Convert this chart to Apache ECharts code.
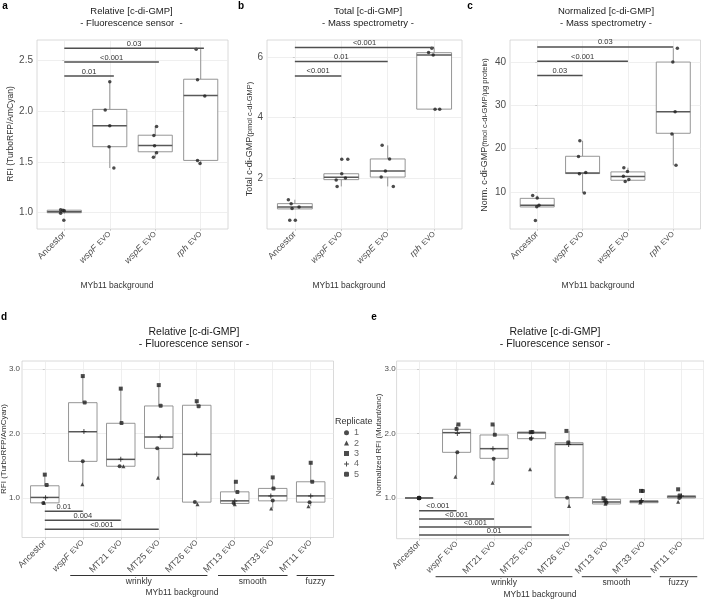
<!DOCTYPE html>
<html>
<head>
<meta charset="utf-8">
<script src="https://cdn.jsdelivr.net/npm/echarts@6/dist/echarts.min.js"></script>
<style>
  html, body { margin: 0; background: #fff; }
  #chart { width: 704px; height: 599px; }
</style>
</head>
<body>
<div id="chart"></div>
<script>
// ---- categories ----
const catsTop = ['Ancestor', 'wspF EVO', 'wspE EVO', 'rph EVO'];
const catsBottom = ['Ancestor', 'wspF EVO', 'MT21 EVO', 'MT25 EVO', 'MT26 EVO', 'MT13 EVO', 'MT33 EVO', 'MT11 EVO'];

// ---- box stats: [lower whisker, Q1, median, Q3, upper whisker] ----
const boxA = [[0.99, 1.0, 1.01, 1.025, 1.03], [1.44, 1.65, 1.855, 2.017, 2.29], [1.545, 1.60, 1.662, 1.763, 1.85], [1.485, 1.515, 2.155, 2.314, 2.61]];
const boxB = [[0.975, 0.975, 1.04, 1.15, 1.28], [1.72, 1.945, 2.02, 2.14, 2.14], [1.72, 2.03, 2.23, 2.63, 3.08], [4.28, 4.28, 6.07, 6.15, 6.30]];
const boxC = [[6.53, 6.53, 6.9, 8.52, 9.15], [9.77, 14.24, 14.4, 18.24, 21.8], [12.4, 12.7, 13.55, 14.63, 15.6], [16.15, 23.55, 28.5, 40, 43.2]];
const boxD = [[0.918, 0.922, 1.006, 1.187, 1.36], [1.21, 1.566, 2.026, 2.477, 2.89], [1.49, 1.49, 1.597, 2.157, 2.695], [1.31, 1.768, 1.944, 2.426, 2.75],
  [0.902, 0.933, 1.675, 2.437, 2.5], [0.9, 0.913, 0.953, 1.093, 1.249], [0.835, 0.953, 1.03, 1.146, 1.317], [0.87, 0.933, 1.03, 1.249, 1.544]];
const boxE = [[1, 1, 1, 1, 1], [1.33, 1.708, 2.013, 2.065, 2.14], [1.237, 1.615, 1.765, 1.977, 2.14], [1.92, 1.92, 2.01, 2.023, 2.03],
  [0.876, 1.005, 1.83, 1.857, 2.04], [0.907, 0.907, 0.938, 0.98, 0.995], [0.927, 0.927, 0.945, 0.958, 0.96], [1.0, 1.0, 1.02, 1.036, 1.04]];

// ---- replicate points per category: [jitter offset, value] ----
const ptsA = [
  [[-0.08, 1.03], [-0.03, 1.025], [0.0, 1.02], [-0.08, 0.995], [-0.01, 0.925]],
  [[0, 2.29], [-0.1, 2.01], [0, 1.855], [-0.015, 1.65], [0.09, 1.44]],
  [[0.03, 1.848], [-0.03, 1.76], [-0.015, 1.66], [0.03, 1.59], [-0.04, 1.545]],
  [[-0.1, 2.61], [-0.07, 2.31], [0.09, 2.15], [-0.07, 1.515], [-0.015, 1.485]]
];
const ptsB = [
  [[-0.14, 1.28], [-0.08, 1.15], [-0.06, 0.985], [0.09, 1.04], [-0.11, 0.6], [0.01, 0.6]],
  [[0.01, 2.62], [0.14, 2.62], [0.01, 2.14], [-0.11, 1.935], [0.09, 2.0], [-0.09, 1.72]],
  [[-0.12, 3.08], [0.04, 2.63], [-0.05, 2.23], [-0.14, 2.03], [0.12, 1.72]],
  [[-0.05, 6.30], [-0.12, 6.16], [-0.02, 6.07], [0.02, 4.28], [0.12, 4.28]]
];
const ptsC = [
  [[-0.1, 9.15], [0, 8.6], [-0.01, 6.6], [0.04, 6.9], [-0.04, 3.43]],
  [[-0.06, 21.8], [-0.09, 18.2], [-0.07, 14.2], [0.07, 14.5], [0.04, 9.77]],
  [[-0.09, 15.6], [-0.01, 14.7], [-0.1, 13.6], [0.02, 12.9], [-0.06, 12.4]],
  [[0.09, 43.2], [-0.01, 40], [0.04, 28.5], [-0.03, 23.4], [0.06, 16.15]]
];
const ptsD = [
  [[0, 1.36], [0.05, 1.20], [0.02, 1.0], [-0.04, 0.918], [-0.02, 0.925]],
  [[0, 2.89], [0.05, 2.48], [0.03, 2.03], [0, 1.566], [-0.01, 1.21]],
  [[0, 2.695], [0.02, 2.16], [0, 1.6], [-0.03, 1.49], [0.07, 1.49]],
  [[0, 2.75], [0.05, 2.43], [0.04, 1.944], [-0.04, 1.77], [-0.02, 1.31]],
  [[0, 2.5], [0.05, 2.42], [0, 1.675], [-0.05, 0.934], [0.02, 0.902]],
  [[0.03, 1.249], [0.07, 1.09], [0, 0.95], [-0.03, 0.92], [0, 0.9]],
  [[0, 1.317], [0.02, 1.146], [-0.05, 1.03], [0, 0.96], [-0.04, 0.835]],
  [[0, 1.544], [0.04, 1.25], [0, 1.03], [-0.03, 0.93], [-0.06, 0.87]]
];
const ptsE = [
  [[0, 1], [0, 1], [0, 1], [0, 1], [0, 1]],
  [[0.05, 2.14], [0, 2.07], [0.02, 2.0], [0.02, 1.71], [-0.03, 1.33]],
  [[-0.04, 2.14], [0.02, 1.98], [-0.03, 1.765], [-0.01, 1.61], [-0.04, 1.237]],
  [[-0.02, 2.02], [0.02, 2.025], [0, 1.93], [-0.02, 1.92], [-0.04, 1.445]],
  [[-0.07, 2.04], [-0.02, 1.86], [-0.01, 1.83], [-0.05, 1.005], [0, 0.876]],
  [[-0.08, 0.995], [-0.03, 0.96], [-0.04, 0.94], [0, 0.925], [-0.03, 0.91]],
  [[-0.08, 1.11], [-0.03, 1.11], [-0.07, 0.96], [-0.08, 0.945], [-0.1, 0.93]],
  [[-0.09, 1.135], [-0.05, 1.04], [0, 1.03], [-0.06, 1.0], [-0.09, 0.94]]
];
// replicate id of the j-th point in each category (panels d, e)
const repOrder = [3, 5, 4, 1, 2];
const replicates = ['1', '2', '3', '4', '5'];

// ---- significance brackets: [from, to, y, p-value] ----
const sigA = [[0, 1.09, 2.346, '0.01'], [0, 2.08, 2.484, '<0.001'], [0, 3.07, 2.62, '0.03']];
const sigB = [[0, 1, 5.38, '<0.001'], [0, 2, 5.86, '0.01'], [0, 3, 6.32, '<0.001']];
const sigC = [[0, 1, 36.9, '0.03'], [0, 2, 40.2, '<0.001'], [0, 3, 43.5, '0.03']];
const sigD = [[0, 1, 0.793, '0.01'], [0, 2, 0.653, '0.004'], [0, 3, 0.513, '<0.001']];
const sigE = [[0, 1, 0.803, '<0.001'], [0, 2, 0.674, '<0.001'], [0, 3, 0.55, '<0.001'], [0, 4, 0.426, '0.01']];

// ---- morphotype groups under the x axis: [label, from, to] ----
const groupsD = [['wrinkly', 0.67, 4.28], ['smooth', 4.56, 6.39], ['fuzzy', 6.63, 7.62]];
const groupsE = [['wrinkly', 0.44, 4.09], ['smooth', 4.34, 6.19], ['fuzzy', 6.42, 7.42]];

// ---- y ticks ----
const ticksA = [1, 1.5, 2, 2.5];
const ticksB = [2, 4, 6];
const ticksC = [10, 20, 30, 40];
const ticksDE = [1, 2, 3];

const FONT = '"Liberation Sans", Arial, sans-serif';
const GRID_COL = '#ebebeb';
const BOX_COL = '#8a8a8a';

const symbols = {
  '1': 'circle',
  '2': 'triangle',
  '3': 'rect',
  '4': 'path://M4,0H6V4H10V6H6V10H4V6H0V4H4Z',
  '5': 'roundRect'
};

function catLabel(name) {
  if (!name.endsWith(' EVO')) return '{n|' + name + '}';
  const base = name.slice(0, -4);
  const style = /^(wsp|rph)/.test(base) ? 'i' : 'n';
  return '{' + style + '|' + base + '} {e|EVO}';
}

function xAxisFor(gridIndex, cats, fs) {
  const idx = cats.map((c, i) => i);
  return {
    type: 'value', gridIndex, min: -0.6, max: cats.length - 0.4,
    axisLine: { show: false },
    axisTick: { show: true, length: 2, customValues: idx, lineStyle: { color: '#b3b3b3', width: 0.6 } },
    axisLabel: {
      customValues: idx, rotate: 45, margin: 4,
      formatter: v => catLabel(cats[Math.round(v)]),
      rich: {
        n: { fontSize: fs, color: '#4d4d4d', fontFamily: FONT },
        i: { fontSize: fs, color: '#4d4d4d', fontStyle: 'italic', fontFamily: FONT },
        e: { fontSize: fs - 1.5, color: '#4d4d4d', fontFamily: FONT }
      }
    },
    splitLine: { show: true, lineStyle: { color: GRID_COL, width: 0.8 } }
  };
}

function yAxisFor(gridIndex, min, max, ticks, dec, fs, margin) {
  return {
    type: 'value', gridIndex, min, max,
    axisLine: { show: false },
    axisTick: { show: true, length: 2, customValues: ticks, lineStyle: { color: '#b3b3b3', width: 0.6 } },
    axisLabel: { customValues: ticks, margin, fontSize: fs, color: '#4d4d4d', fontFamily: FONT, formatter: v => v.toFixed(dec) },
    splitLine: { show: true, lineStyle: { color: GRID_COL, width: 0.8 } }
  };
}

function renderBox(params, api) {
  const x = api.value(0);
  const lo = api.coord([x, api.value(1)]);
  const q1 = api.coord([x, api.value(2)]);
  const med = api.coord([x, api.value(3)]);
  const q3 = api.coord([x, api.value(4)]);
  const hi = api.coord([x, api.value(5)]);
  const half = api.size([0.75, 0])[0] / 2;
  const cx = lo[0];
  const thin = { stroke: BOX_COL, lineWidth: 0.9 };
  return {
    type: 'group',
    children: [
      { type: 'line', shape: { x1: cx, y1: hi[1], x2: cx, y2: q3[1] }, style: thin },
      { type: 'line', shape: { x1: cx, y1: q1[1], x2: cx, y2: lo[1] }, style: thin },
      { type: 'rect', shape: { x: cx - half, y: q3[1], width: half * 2, height: q1[1] - q3[1] }, style: { fill: '#fff', stroke: BOX_COL, lineWidth: 0.9 } },
      { type: 'line', shape: { x1: cx - half, y1: med[1], x2: cx + half, y2: med[1] }, style: { stroke: '#595959', lineWidth: 1.5 } }
    ]
  };
}

function sigRenderer(sig, fs) {
  return function (params, api) {
    const s = sig[params.dataIndex];
    const p0 = api.coord([s[0], s[2]]);
    const p1 = api.coord([s[1], s[2]]);
    return {
      type: 'group',
      children: [
        { type: 'line', shape: { x1: p0[0], y1: p0[1], x2: p1[0], y2: p1[1] }, style: { stroke: '#4f4f4f', lineWidth: 1.5 } },
        { type: 'text', x: (p0[0] + p1[0]) / 2, y: p0[1] - 0.5,
          style: { text: s[3], align: 'center', verticalAlign: 'bottom', fontSize: fs, fill: '#333', fontFamily: FONT } }
      ]
    };
  };
}

function groupRenderer(groups, yMin) {
  return function (params, api) {
    const g = groups[params.dataIndex];
    const p0 = api.coord([g[1], yMin]);
    const p1 = api.coord([g[2], yMin]);
    return {
      type: 'group',
      children: [
        { type: 'line', shape: { x1: p0[0], y1: p0[1] + 38, x2: p1[0], y2: p1[1] + 38 }, style: { stroke: '#333', lineWidth: 1 } },
        { type: 'text', x: (p0[0] + p1[0]) / 2, y: p0[1] + 44,
          style: { text: g[0], align: 'center', verticalAlign: 'middle', fontSize: 8.5, fill: '#333', fontFamily: FONT } }
      ]
    };
  };
}

const panels = [
  { cats: catsTop, box: boxA, pts: ptsA, sig: sigA, y: [0.84, 2.70], ticks: ticksA, dec: 1, fsY: 10, margin: 4, fsSig: 7.5 },
  { cats: catsTop, box: boxB, pts: ptsB, sig: sigB, y: [0.31, 6.57], ticks: ticksB, dec: 0, fsY: 10, margin: 4, fsSig: 7.5 },
  { cats: catsTop, box: boxC, pts: ptsC, sig: sigC, y: [1.44, 45.1], ticks: ticksC, dec: 0, fsY: 10, margin: 4, fsSig: 7.5 },
  { cats: catsBottom, box: boxD, pts: ptsD, sig: sigD, y: [0.384, 3.124], ticks: ticksDE, dec: 1, fsY: 8, margin: 2, fsSig: 7.5, groups: groupsD, reps: true },
  { cats: catsBottom, box: boxE, pts: ptsE, sig: sigE, y: [0.369, 3.124], ticks: ticksDE, dec: 1, fsY: 8, margin: 1, fsSig: 7.5, groups: groupsE, reps: true }
];

const grids = [
  { left: 37, top: 40, width: 191, height: 189 },
  { left: 267, top: 40, width: 195, height: 189 },
  { left: 510, top: 40, width: 190.5, height: 189 },
  { left: 22, top: 361, width: 311.5, height: 176.5 },
  { left: 396.6, top: 361, width: 310.5, height: 177.7 }
].map(g => Object.assign({ show: true, borderColor: '#d0d0d0', borderWidth: 0.8, backgroundColor: 'transparent' }, g));

const xAxes = [], yAxes = [], series = [];
panels.forEach((p, k) => {
  xAxes.push(xAxisFor(k, p.cats, 9));
  yAxes.push(yAxisFor(k, p.y[0], p.y[1], p.ticks, p.dec, p.fsY, p.margin));
  series.push({
    type: 'custom', xAxisIndex: k, yAxisIndex: k, renderItem: renderBox, z: 2,
    encode: { x: 0, y: [1, 2, 3, 4, 5] },
    data: p.box.map((b, i) => [i].concat(b))
  });
  if (p.reps) {
    replicates.forEach(r => {
      const data = [];
      p.pts.forEach((cat, i) => cat.forEach((pt, j) => {
        if (String(repOrder[j]) === r) data.push([i + pt[0], pt[1]]);
      }));
      series.push({
        type: 'scatter', name: r, xAxisIndex: k, yAxisIndex: k, z: 3,
        symbol: symbols[r], symbolSize: r === '4' ? 5 : 4,
        itemStyle: { color: '#1f1f1f' }, data
      });
    });
  } else {
    series.push({
      type: 'scatter', name: 'pts' + k, xAxisIndex: k, yAxisIndex: k, z: 3,
      symbol: 'circle', symbolSize: 3.5, itemStyle: { color: '#1f1f1f' },
      data: p.pts.flatMap((cat, i) => cat.map(pt => [i + pt[0], pt[1]]))
    });
  }
  series.push({
    type: 'custom', xAxisIndex: k, yAxisIndex: k, z: 4, renderItem: sigRenderer(p.sig, p.fsSig),
    encode: { x: [0, 1], y: 2 },
    data: p.sig.map(s => [s[0], s[1], s[2]])
  });
  if (p.groups) {
    series.push({
      type: 'custom', xAxisIndex: k, yAxisIndex: k, z: 4, clip: false,
      renderItem: groupRenderer(p.groups, p.y[0]),
      encode: { x: [0, 1] },
      data: p.groups.map(g => [g[1], g[2]])
    });
  }
});

function txt(text, x, y, opts) {
  return {
    type: 'text', x, y, rotation: (opts && opts.rot) || 0,
    style: Object.assign({ text, align: 'center', verticalAlign: 'middle', fontSize: 9, fill: '#333', fontFamily: FONT }, (opts && opts.style) || {})
  };
}

const graphics = [
  txt('a', 5, 6, { style: { fontWeight: 'bold', fontSize: 10, fill: '#000' } }),
  txt('b', 241, 6, { style: { fontWeight: 'bold', fontSize: 10, fill: '#000' } }),
  txt('c', 470, 6, { style: { fontWeight: 'bold', fontSize: 10, fill: '#000' } }),
  txt('d', 4, 317, { style: { fontWeight: 'bold', fontSize: 10, fill: '#000' } }),
  txt('e', 374, 317, { style: { fontWeight: 'bold', fontSize: 10, fill: '#000' } }),

  txt('Relative [c-di-GMP]', 131.5, 11, { style: { fontSize: 9.5, fill: '#1a1a1a' } }),
  txt('- Fluorescence sensor  -', 131.5, 23, { style: { fontSize: 9.5, fill: '#1a1a1a' } }),
  txt('Total [c-di-GMP]', 368, 11, { style: { fontSize: 9.5, fill: '#1a1a1a' } }),
  txt('- Mass spectrometry -', 368, 23, { style: { fontSize: 9.5, fill: '#1a1a1a' } }),
  txt('Normalized [c-di-GMP]', 606, 11, { style: { fontSize: 9.5, fill: '#1a1a1a' } }),
  txt('- Mass spectrometry -', 606, 23, { style: { fontSize: 9.5, fill: '#1a1a1a' } }),
  txt('Relative [c-di-GMP]', 194, 332, { style: { fontSize: 10.5, fill: '#1a1a1a' } }),
  txt('- Fluorescence sensor -', 194, 344, { style: { fontSize: 10.5, fill: '#1a1a1a' } }),
  txt('Relative [c-di-GMP]', 555, 332, { style: { fontSize: 10.5, fill: '#1a1a1a' } }),
  txt('- Fluorescence sensor -', 555, 344, { style: { fontSize: 10.5, fill: '#1a1a1a' } }),

  txt('RFI (TurboRFP/AmCyan)', 11, 134, { rot: Math.PI / 2, style: { fontSize: 8.5 } }),
  txt('{a|Total c-di-GMP}{b|(pmol c-di-GMP)}', 250, 139, { rot: Math.PI / 2,
    style: { rich: { a: { fontSize: 9, fill: '#333', fontFamily: FONT }, b: { fontSize: 7.5, fill: '#333', fontFamily: FONT } } } }),
  txt('{a|Norm. c-di-GMP}{b|(fmol c-di-GMP/µg protein)}', 485, 135, { rot: Math.PI / 2,
    style: { rich: { a: { fontSize: 9, fill: '#333', fontFamily: FONT }, b: { fontSize: 7.5, fill: '#333', fontFamily: FONT } } } }),
  txt('RFI (TurboRFP/AmCyan)', 4, 449, { rot: Math.PI / 2, style: { fontSize: 8 } }),
  txt('Normalized RFI (Mutant/anc)', 379, 445, { rot: Math.PI / 2, style: { fontSize: 8 } }),

  txt('MYb11 background', 117, 286, { style: { fontSize: 8.5 } }),
  txt('MYb11 background', 349, 286, { style: { fontSize: 8.5 } }),
  txt('MYb11 background', 598, 286, { style: { fontSize: 8.5 } }),
  txt('MYb11 background', 182, 593, { style: { fontSize: 8.5 } }),
  txt('MYb11 background', 540, 595, { style: { fontSize: 8.5 } }),

  txt('Replicate', 335, 422, { style: { align: 'left', fontSize: 9 } })
];

const chart = echarts.init(document.getElementById('chart'), null, { renderer: 'canvas' });
chart.setOption({
  animation: false,
  backgroundColor: '#fff',
  textStyle: { fontFamily: FONT },
  grid: grids,
  xAxis: xAxes,
  yAxis: yAxes,
  legend: {
    data: replicates, orient: 'vertical', left: 339, top: 423,
    itemWidth: 5, itemHeight: 5, itemGap: 1, selectedMode: false,
    textStyle: { fontSize: 9, color: '#666', lineHeight: 9.4, fontFamily: FONT }
  },
  series,
  graphic: graphics
});
</script>
</body>
</html>
